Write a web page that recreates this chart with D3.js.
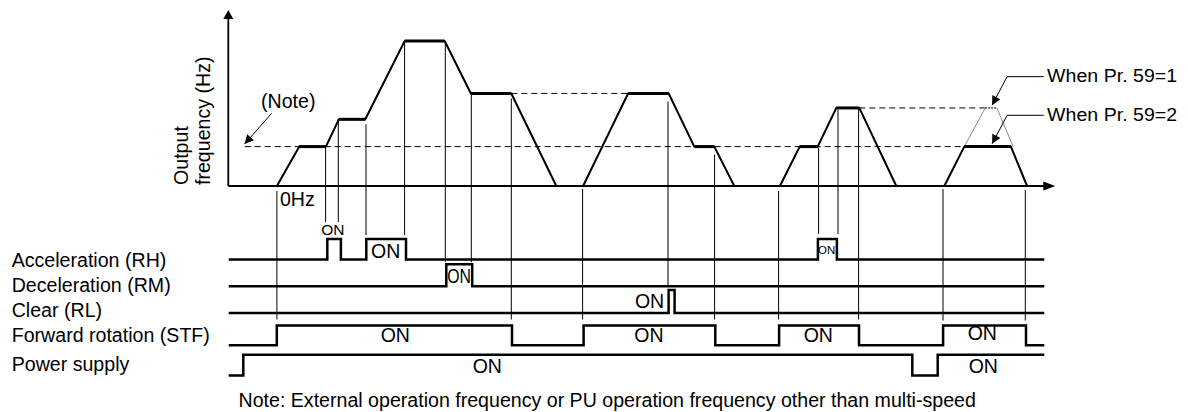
<!DOCTYPE html>
<html>
<head>
<meta charset="utf-8">
<script src="https://cdn.jsdelivr.net/npm/d3@7"></script>
<style>
  html, body { margin: 0; padding: 0; background: #fff; }
  svg { display: block; font-family: "Liberation Sans", Arial, Helvetica, sans-serif; }
</style>
</head>
<body>
<svg id="chart" width="1188" height="412"></svg>
<script>
// ---- Output frequency profile (time in s, frequency in Hz); null splits the runs ----
const freqTimes = [2.43, 3.55, 4.88, 5.53, 6.85, 8.82, 10.82, 12.13, 14.15, 16.4, null,
                   17.74, 19.99, 22.02, 23.3, 24.3, 25.3, null,
                   27.58, 28.57, 29.47, 30.4, 31.55, 33.4, null,
                   35.8, 36.8, 39.13, 39.94];
const freqHz    = [0, 16.3, 16.3, 27.6, 27.6, 60, 60, 38.3, 38.3, 0, null,
                   0, 38.3, 38.3, 16.3, 16.3, 0, null,
                   0, 16.3, 16.3, 32.3, 32.3, 0, null,
                   0, 16.3, 16.3, 0];

// Profile that would be followed when Pr. 59=1
const altTimes = [36.8, 37.85, 38.43, 39.24];
const altHz    = [16.3, 32.3, 32.3, 16.3];

// Dashed reference levels
const refStart = [0.82, 14.15, 31.55];
const refEnd   = [36.75, 19.99, 37.85];
const refHz    = [16.3, 38.3, 32.3];

// ---- Input signals ----
const signalNames = ["Acceleration (RH)", "Deceleration (RM)", "Clear (RL)",
                     "Forward rotation (STF)", "Power supply"];
// times at which each signal toggles (all start OFF)
const signalEdges = [
  [4.95, 5.63, 6.9, 8.885, 29.48, 30.43],
  [10.9, 12.195],
  [22.015, 22.315],
  [2.425, 14.185, 17.765, 24.35, 27.54, 31.535, 35.74, 39.885],
  [0.75, 34.2, 35.47]
];
const signalStart = 0.02;
const signalEnd = 40.8;

// Vertical timing links: time, frequency where they leave the curve, signal they reach
const linkTimes = [2.43, 4.865, 5.5, 6.885, 8.815, 10.85, 12.15, 14.15, 17.715,
                   21.985, 24.315, 27.515, 29.515, 30.485, 31.515, 35.735, 39.85];
const linkHz    = [0, 16.3, 27.6, 27.6, 60, 60, 38.3, 38.3, 0,
                   38.3, 16.3, 0, 16.3, 32.3, 32.3, 0, 0];
const linkRow   = [3, 0, 0, 0, 0, 1, 1, 3, 3, 2, 3, 3, 0, 0, 3, 3, 3];

// "ON" annotations: signal row and time
const onRow   = [0, 0, 1, 2, 0, 3, 3, 3, 3, 4, 4];
const onTimes = [5.23, 7.87, 11.54, 21.06, 29.92, 8.35, 21.03, 29.5, 37.7, 12.95, 37.75];

const timeMax = 41.35;
const freqAxisMax = 72.8;

// ---- Layout ----
const svg = d3.select("#chart");
const x = d3.scaleLinear().domain([0, timeMax]).range([228.3, 1055.3]);
const y = d3.scaleLinear().domain([0, 60]).range([186, 41]);
const rowLow = d3.scaleOrdinal().domain(signalNames).range([259.5, 286.2, 313, 345.3, 375.5]);
const rowHeight = d3.scaleOrdinal().domain(signalNames).range([20.5, 22, 23, 19.8, 20.8]);
const rowLabelY = d3.scaleOrdinal().domain(signalNames).range([266.7, 291.7, 317.3, 341.7, 370.7]);
const rowY = (i, state) => rowLow(signalNames[i]) - state * rowHeight(signalNames[i]);

const linkStartGap = [5, 0, 0, 5, 0, 0, 0, 5, 3, 8, 8, 5, 1, 2, 0, 3, 4];
const linkEndGap   = [6, 17, 17, 4, 4, 2, 2, 6, 6, 4, 6, 6, 5, 5, 6, 5, 5];
const onStyle = [
  { dy: -24.5, size: 15.5 },
  { dy: -1.8,  size: 19.5 },
  { dy: -3.2,  size: 19.5, len: 23.7 },
  { dy: -5.2,  size: 19.5 },
  { dy: -5.7,  size: 11.5 },
  { dy: -3.6,  size: 19.5 }, { dy: -3.6, size: 19.5 }, { dy: -3.6, size: 19.5 }, { dy: -5.4, size: 19.5 },
  { dy: -2.3,  size: 19.5 }, { dy: -2.3, size: 19.5 }
];
const FONT = 19.6;

// arrow marker
const defs = svg.append("defs");
defs.append("marker")
  .attr("id", "head").attr("viewBox", "0 0 10 10")
  .attr("refX", 10).attr("refY", 5)
  .attr("markerWidth", 10).attr("markerHeight", 9)
  .attr("markerUnits", "userSpaceOnUse").attr("orient", "auto")
  .append("path").attr("d", "M0,0L10,5L0,10Z").attr("fill", "#000");

// ---- Axes ----
const axes = svg.append("g").attr("stroke", "#000").attr("stroke-width", 1.8).attr("fill", "none");
axes.append("line").attr("x1", x(0)).attr("y1", y(0)).attr("x2", x(0)).attr("y2", y(freqAxisMax) + 9);
axes.append("line").attr("x1", x(0)).attr("y1", y(0)).attr("x2", x(timeMax) - 10).attr("y2", y(0));
svg.append("path")
  .attr("d", `M${x(0) - 5},${y(freqAxisMax) + 9}L${x(0)},${y(freqAxisMax)}L${x(0) + 5},${y(freqAxisMax) + 9}Z`)
  .attr("fill", "#000");
svg.append("path")
  .attr("d", `M${x(timeMax) - 12},${y(0) - 4.5}L${x(timeMax)},${y(0)}L${x(timeMax) - 12},${y(0) + 4.5}Z`)
  .attr("fill", "#000");

// axis title
const yTitle = svg.append("g").attr("font-size", FONT).attr("fill", "#000");
yTitle.append("text").attr("transform", "translate(188.3,185) rotate(-90)").text("Output");
yTitle.append("text").attr("transform", "translate(209.5,185) rotate(-90)").text("frequency (Hz)");

svg.append("text").attr("x", x(2.43) + 3).attr("y", 206).attr("font-size", FONT).text("0Hz");

// ---- Dashed reference levels ----
svg.append("g").selectAll("line").data(refHz).join("line")
  .attr("x1", (d, i) => x(refStart[i])).attr("x2", (d, i) => x(refEnd[i]))
  .attr("y1", d => y(d)).attr("y2", d => y(d))
  .attr("stroke", "#000").attr("stroke-width", 1).attr("stroke-dasharray", "6,4");

// ---- Pr. 59=1 profile ----
const altPts = altTimes.map((t, i) => [x(t), y(altHz[i])]);
svg.append("path").attr("d", d3.line()([altPts[0], altPts[1]]))
  .attr("stroke", "#8a8a8a").attr("stroke-width", 1).attr("fill", "none");
svg.append("path").attr("d", d3.line()([altPts[2], altPts[3]]))
  .attr("stroke", "#8a8a8a").attr("stroke-width", 1).attr("fill", "none");
svg.append("path").attr("d", d3.line()([altPts[1], altPts[2]]))
  .attr("stroke", "#000").attr("stroke-width", 1.3).attr("stroke-dasharray", "1.5,1.5").attr("fill", "none");

// ---- Frequency curve ----
const freqPts = freqTimes.map((t, i) => ({ t, f: freqHz[i] }));
const freqLine = d3.line().defined(d => d.t !== null).x(d => x(d.t)).y(d => y(d.f));
svg.append("path").datum(freqPts).attr("d", freqLine)
  .attr("stroke", "#000").attr("stroke-width", 2).attr("fill", "none").attr("stroke-linejoin", "round");
// plateaus drawn heavier
const plateaus = [];
for (let i = 1; i < freqPts.length; i++) {
  const a = freqPts[i - 1], b = freqPts[i];
  if (a.t !== null && b.t !== null && a.f === b.f && a.f > 0) plateaus.push([a, b]);
}
svg.append("g").selectAll("line").data(plateaus).join("line")
  .attr("x1", d => x(d[0].t)).attr("x2", d => x(d[1].t))
  .attr("y1", d => y(d[0].f)).attr("y2", d => y(d[1].f))
  .attr("stroke", "#000").attr("stroke-width", 3);

// ---- Timing links ----
svg.append("g").selectAll("line").data(linkTimes).join("line")
  .attr("x1", d => x(d)).attr("x2", d => x(d))
  .attr("y1", (d, i) => y(linkHz[i]) + linkStartGap[i])
  .attr("y2", (d, i) => rowY(linkRow[i], 1) - linkEndGap[i])
  .attr("stroke", "#000").attr("stroke-width", 1);

// ---- Signals ----
const stepLine = d3.line().x(d => x(d[0])).y(d => d[1]);
signalEdges.forEach((edges, i) => {
  let state = 0;
  const pts = [[signalStart, rowY(i, 0)]];
  edges.forEach(t => {
    pts.push([t, rowY(i, state)]);
    state = 1 - state;
    pts.push([t, rowY(i, state)]);
  });
  pts.push([signalEnd, rowY(i, state)]);
  svg.append("path").attr("d", stepLine(pts))
    .attr("stroke", "#000").attr("stroke-width", 2.5).attr("fill", "none")
    .attr("stroke-linejoin", "miter");
});

// signal names
svg.append("g").selectAll("text").data(signalNames).join("text")
  .attr("x", 11.7).attr("y", d => rowLabelY(d))
  .attr("font-size", FONT).text(d => d);

// "ON" labels
svg.append("g").selectAll("text").data(onTimes).join("text")
  .attr("x", d => x(d)).attr("y", (d, i) => rowY(onRow[i], 0) + onStyle[i].dy)
  .attr("text-anchor", "middle")
  .attr("font-size", (d, i) => onStyle[i].size)
  .each(function (d, i) {
    if (onStyle[i].len) d3.select(this).attr("textLength", onStyle[i].len).attr("lengthAdjust", "spacingAndGlyphs");
  })
  .text("ON");

// ---- Annotations ----
svg.append("text").attr("x", 261).attr("y", 108.3).attr("font-size", FONT).text("(Note)");
svg.append("line")
  .attr("x1", 271.7).attr("y1", 113.3).attr("x2", x(0.815)).attr("y2", y(16.3) - 2.6)
  .attr("stroke", "#000").attr("stroke-width", 1).attr("marker-end", "url(#head)");

const prLabels = ["When Pr. 59=1", "When Pr. 59=2"];
const prTipHz = [32.3, 16.3];
prLabels.forEach((label, i) => {
  const tipX = x(38.19), tipY = y(prTipHz[i]) - 2.8;
  const ex = tipX + 15, ey = tipY - 28.5;
  svg.append("path").attr("d", `M${ex + 36.6},${ey}L${ex},${ey}L${tipX},${tipY}`)
    .attr("stroke", "#000").attr("stroke-width", 1).attr("fill", "none")
    .attr("marker-end", "url(#head)");
  svg.append("text").attr("x", ex + 40).attr("y", ey + 5.5)
    .attr("font-size", 18).attr("textLength", 130).attr("lengthAdjust", "spacingAndGlyphs")
    .text(label);
});

svg.append("text").attr("x", 238.5).attr("y", 406.5).attr("font-size", FONT)
  .text("Note: External operation frequency or PU operation frequency other than multi-speed");
</script>
</body>
</html>
